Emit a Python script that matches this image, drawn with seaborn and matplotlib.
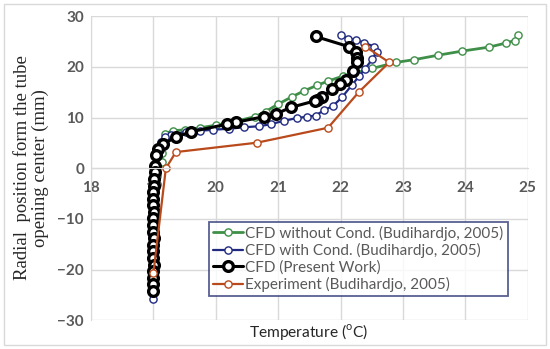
import matplotlib as mpl
import matplotlib.pyplot as plt
import seaborn as sns
import pandas as pd
import numpy as np
from matplotlib.patches import Rectangle

# CFD without condensation (Budihardjo, 2005)
green_t = [24.85, 24.79, 24.65, 24.38, 23.94, 23.56, 23.17, 22.89, 22.51, 22.04, 21.80, 21.63,
           21.42, 21.22, 20.99, 20.80, 20.63, 20.30, 20.00, 19.75, 19.51, 19.31, 19.18, 19.12,
           19.14, 19.14, 19.05, 19.01, 19.00, 19.00, 19.00, 19.00, 19.00, 19.00, 19.00]
green_y = [26.2, 25.2, 24.7, 23.9, 23.1, 22.3, 21.4, 20.9, 19.7, 18.2, 17.2, 16.4,
           15.3, 14.1, 12.6, 11.2, 10.2, 9.2, 8.5, 8.0, 7.6, 7.4, 6.8, 5.0,
           3.0, 1.3, -1.5, -4.5, -7.5, -10.5, -13.5, -16.5, -19.5, -22.5, -24.5]

# CFD with condensation (Budihardjo, 2005)
blue_t = [22.00, 22.12, 22.24, 22.38, 22.54, 22.58, 22.51, 22.39, 22.30, 22.18, 22.03, 21.88,
          21.74, 21.60, 21.47, 21.30, 21.10, 20.88, 20.70, 20.46, 20.21, 19.95, 19.75, 19.52,
          19.29, 19.19, 19.13, 19.08, 19.04, 19.02, 19.01, 19.00, 19.00, 19.00, 19.00, 19.00,
          19.00, 19.00, 19.00]
blue_y = [26.2, 25.6, 25.3, 24.8, 24.0, 23.0, 21.5, 19.6, 18.2, 16.4, 14.1, 12.3,
          11.5, 10.4, 10.2, 9.9, 9.4, 8.7, 8.3, 8.1, 7.8, 7.6, 7.4, 7.2,
          6.6, 6.2, 5.2, 4.0, 2.5, 0.5, -2.0, -5.0, -8.0, -11.0, -14.0, -17.0,
          -20.0, -23.0, -25.8]

# CFD (present work)
black_t = [21.60, 22.13, 22.25, 22.26, 22.26, 22.20, 22.09, 21.99, 21.87, 21.70, 21.63, 21.59,
           21.20, 20.96, 20.78, 20.33, 20.18, 19.60, 19.37, 19.16, 19.08, 19.04, 19.03, 19.02,
           19.01, 19.01, 19.00, 19.00, 19.00, 19.01, 19.00, 19.00, 19.00, 19.01, 19.00, 19.00,
           19.00, 19.01, 19.00, 19.00, 19.00, 19.00]
black_y = [26.0, 24.0, 22.9, 21.8, 20.9, 19.1, 17.4, 16.6, 15.6, 14.0, 13.5, 13.3,
           12.0, 10.7, 10.2, 9.1, 8.7, 7.2, 6.2, 4.8, 3.9, 2.6, 0.5, -0.8,
           -2.1, -3.4, -4.7, -6.0, -7.3, -8.6, -9.9, -11.2, -12.5, -13.8, -15.1, -16.4,
           -17.7, -19.0, -20.3, -21.6, -22.9, -24.2]

# Experiment (Budihardjo, 2005)
exp_t = [19.00, 19.20, 19.36, 20.66, 21.80, 22.29, 22.78, 22.40]
exp_y = [-20.7, 0.0, 3.2, 5.05, 8.0, 15.0, 20.9, 24.0]

labels = ["CFD without Cond. (Budihardjo, 2005)", "CFD with Cond. (Budihardjo, 2005)",
          "CFD (Present Work)", "Experiment (Budihardjo, 2005)"]
x_ticks = [18, 19, 20, 21, 22, 23, 24, 25]
y_ticks = [-30, -20, -10, 0, 10, 20, 30]

sns.set_style("white")
plt.rcParams['font.family'] = ['Lato', 'DejaVu Sans']
plt.rcParams['mathtext.fontset'] = 'custom'
plt.rcParams['mathtext.rm'] = 'Lato'

fig = plt.figure(figsize=(5.5, 3.49), dpi=100)
fig.patches.append(Rectangle((4 / 550, 4 / 349), 542 / 550, 341 / 349, transform=fig.transFigure,
                             fill=False, edgecolor='#d9d9d9', linewidth=1.0))
ax = fig.add_axes([91 / 550, 1 - 320.4 / 349, (527.7 - 91) / 550, (320.4 - 16.2) / 349])

series = [(green_t, green_y, '#3f8f48', 2.0, 5.2, 1.0),
          (blue_t, blue_y, '#1f2a80', 1.6, 5.2, 1.0),
          (black_t, black_y, '#000000', 2.2, 7.0, 2.4),
          (exp_t, exp_y, '#b84a1c', 1.6, 5.2, 1.0)]
for (t, y, c, lw, ms, mew), lab in zip(series, labels):
    df = pd.DataFrame({"T": t, "Y": y})
    sns.lineplot(data=df, x="T", y="Y", sort=False, estimator=None, ax=ax, color=c,
                 linewidth=lw, marker='o', markersize=ms, markerfacecolor='white',
                 markeredgecolor=c, markeredgewidth=mew, label=lab)

ax.set_xlim(18, 25)
ax.set_ylim(-30, 30)
ax.set_xticks(x_ticks)
ax.set_yticks(y_ticks)
ax.grid(True, color='#d9d9d9', linewidth=1.0)
ax.set_axisbelow(True)
for s in ['top', 'right']:
    ax.spines[s].set_visible(False)
ax.spines['bottom'].set_position(('data', 0))
ax.spines['bottom'].set_color('#d9d9d9')
ax.spines['left'].set_color('#d9d9d9')
ax.tick_params(length=0, labelsize=11, labelcolor='#595959')
ax.tick_params(axis='x', pad=9)
ax.tick_params(axis='y', pad=5)
for lbl in ax.get_xticklabels() + ax.get_yticklabels():
    lbl.set_fontweight('bold')
ax.set_xlabel("")
ax.set_ylabel("")

fig.text(309 / 550, 1 - 331.5 / 349, "Temperature ($^{\\mathrm{o}}$C)", ha='center', va='center',
         fontsize=11.2, color='#262626')
fig.text(31 / 550, 1 - 168 / 349, "Radial  position form the tube\nopening center (mm)",
         rotation=90, ha='center', va='center', fontsize=13.5, family='Liberation Serif',
         linespacing=1.1)

leg = ax.legend(loc='lower right', bbox_to_anchor=(507.5 / 550, 1 - 296 / 349),
                bbox_transform=fig.transFigure, frameon=True, fancybox=False,
                fontsize=11, handlelength=2.0, handletextpad=0.15, labelspacing=0.15,
                borderpad=0.25, borderaxespad=0)
leg.get_frame().set_edgecolor('#2f3878')
leg.get_frame().set_linewidth(1.3)
for txt in leg.get_texts():
    txt.set_color('#595959')

fig.savefig("out.png", dpi=100)
